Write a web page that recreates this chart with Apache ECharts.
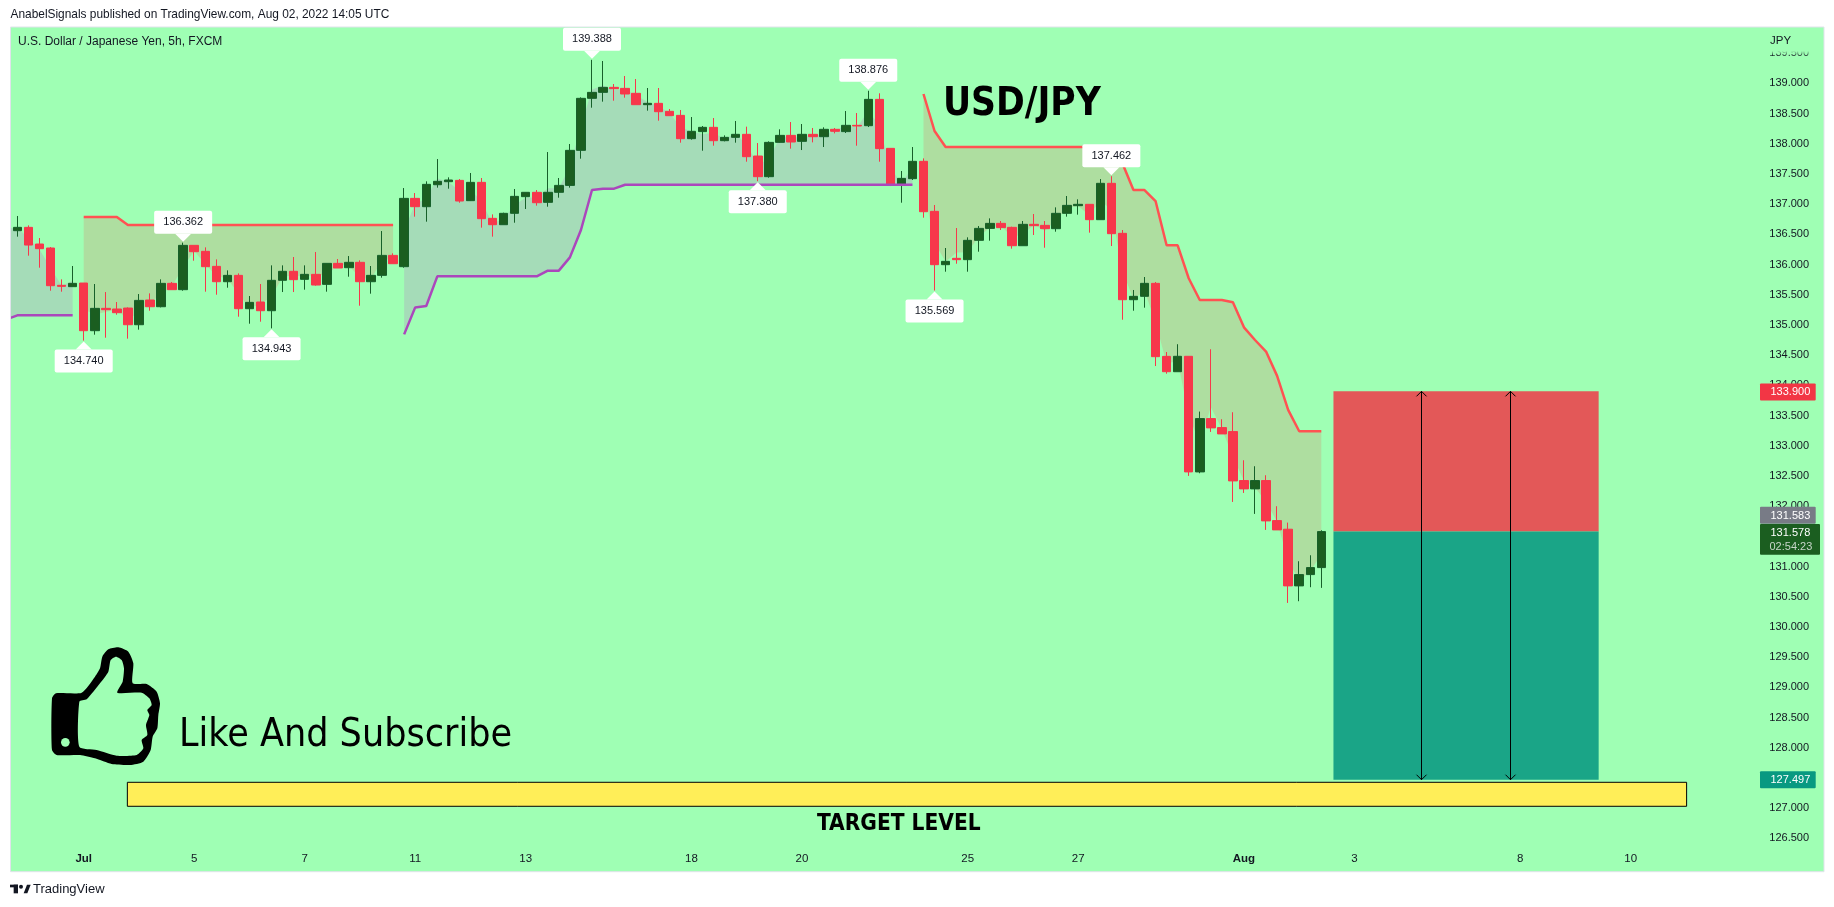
<!DOCTYPE html>
<html>
<head>
<meta charset="utf-8">
<title>USD/JPY</title>
<style>
    html, body { margin: 0; padding: 0; background: #fff; }
    #chart { width: 1834px; height: 907px; }
</style>
<script src="https://cdn.jsdelivr.net/npm/echarts@6/dist/echarts.min.js"></script>
</head>
<body>
<div id="chart"></div>
<script>
// 5h candles, first one is the cut off bar at the left edge of the pane
var barOpen = [136.62,
    136.56,136.615,136.339,136.273,135.655,135.633,135.693,134.904,135.274,135.263,
    135.279,135.003,135.412,135.301,135.688,135.583,136.317,136.218,135.969,135.715,
    135.82,135.268,135.379,135.235,135.738,135.887,135.754,135.837,135.671,136.019,
    135.947,136.036,135.715,135.82,136.151,135.964,137.095,136.957,137.321,137.371,
    137.393,137.057,137.36,136.764,136.659,136.847,137.123,137.195,137.029,137.195,
    137.31,137.89,138.751,138.85,138.933,138.916,138.834,138.646,138.668,138.536,
    138.469,138.083,138.2,138.271,138.05,138.105,138.155,137.796,137.454,138.022,
    138.138,138.039,138.155,138.116,138.238,138.2,138.304,138.298,138.734,137.923,
    137.316,137.421,137.708,136.88,135.997,136.102,136.08,136.4,136.598,136.681,
    136.615,136.311,136.665,136.648,136.593,136.847,136.974,136.996,136.742,137.344,
    136.516,135.417,135.473,135.688,134.479,134.225,134.48,132.566,133.449,133.3,
    133.234,132.423,132.285,132.423,131.76,131.617,130.679,130.866,130.982];
var barClose = [136.56,
    136.615,136.322,136.262,135.649,135.638,135.688,134.904,135.274,135.252,135.202,
    135.003,135.406,135.301,135.688,135.583,136.317,136.212,135.964,135.715,135.82,
    135.268,135.373,135.235,135.738,135.887,135.749,135.837,135.66,136.019,135.942,
    136.036,135.715,135.82,136.151,136.013,137.095,136.957,137.327,137.377,137.399,
    137.051,137.36,136.759,136.659,136.847,137.128,137.195,137.023,137.195,137.31,
    137.89,138.751,138.85,138.933,138.911,138.823,138.646,138.668,138.53,138.464,
    138.083,138.205,138.271,138.05,138.105,138.155,137.785,137.454,138.022,138.138,
    138.028,138.155,138.116,138.238,138.205,138.304,138.293,138.734,137.918,137.31,
    137.426,137.708,136.874,135.997,136.052,136.08,136.4,136.598,136.681,136.61,
    136.311,136.665,136.643,136.593,136.847,136.979,136.996,136.742,137.344,136.51,
    135.417,135.473,135.688,134.474,134.225,134.48,132.566,133.449,133.295,133.195,
    132.417,132.285,132.423,131.755,131.606,130.679,130.866,130.982,131.578];
var barLow = [136.5,
    136.461,136.146,135.947,135.566,135.55,135.633,134.74,134.838,134.788,135.169,
    134.772,134.921,135.235,135.29,135.583,135.566,136.063,135.55,135.5,135.616,
    135.136,135.02,135.053,134.943,135.544,135.544,135.583,135.649,135.55,135.942,
    135.798,135.318,135.517,135.782,136.013,135.947,136.792,136.709,137.272,137.255,
    137.023,137.051,136.61,136.461,136.659,136.692,136.919,136.974,136.957,137.106,
    137.272,137.752,138.596,138.696,138.712,138.762,138.646,138.547,138.381,138.464,
    138.017,138.067,137.884,137.967,138.039,138.017,137.702,137.38,137.437,138.017,
    137.918,137.895,138.022,137.945,138.171,138.177,137.967,138.276,137.702,137.299,
    137.023,137.399,136.775,135.569,135.881,136.013,135.881,136.212,136.394,136.571,
    136.262,136.311,136.488,136.278,136.543,136.792,136.825,136.527,136.742,136.306,
    135.086,135.235,135.285,134.319,134.192,134.225,132.5,132.544,133.228,133.195,
    132.069,132.218,131.871,131.606,131.606,130.397,130.425,130.657,130.646];
var barHigh = [136.7,
    136.803,136.648,136.438,136.289,135.754,135.975,135.693,135.677,135.544,135.379,
    135.29,135.511,135.522,135.754,135.71,136.362,136.317,136.284,136.085,135.903,
    135.853,135.478,135.677,135.986,135.986,136.124,135.986,136.207,136.019,136.091,
    136.14,136.069,135.975,136.554,136.185,137.266,137.183,137.377,137.746,137.443,
    137.415,137.515,137.432,136.83,136.858,137.25,137.195,137.233,137.862,137.432,
    137.995,138.767,139.388,139.369,138.988,139.121,139.071,138.922,138.922,138.574,
    138.558,138.442,138.293,138.425,138.138,138.376,138.282,138.011,138.039,138.238,
    138.359,138.326,138.26,138.271,138.26,138.541,138.508,138.876,138.834,137.923,
    137.548,137.945,137.757,136.985,136.273,136.604,136.45,136.637,136.764,136.72,
    136.626,136.72,136.836,136.72,136.946,137.134,137.079,136.996,137.415,137.462,
    136.571,135.578,135.793,135.71,134.551,134.68,134.48,133.565,134.597,133.438,
    133.554,132.759,132.66,132.511,131.998,131.727,131.087,131.186,131.6];

// supertrend lines, null where the other side is active
var trendLower = [135.092,
    135.158,135.158,135.158,135.158,135.158,135.158,
    null,null,null,null,null,null,null,null,null,null,null,null,null,null,null,
    null,null,null,null,null,null,null,null,null,null,null,null,null,null,
    134.843,135.29,135.312,
    135.804,135.804,135.804,135.804,135.804,135.804,135.804,135.804,135.804,135.804,
    135.898,135.898,136.118,136.571,137.233,137.255,137.255,
    137.321,137.321,137.321,137.321,137.321,137.321,137.321,137.321,137.321,
    137.321,137.321,137.321,137.321,137.321,137.321,137.321,137.321,137.321,
    137.321,137.321,137.321,137.321,137.321,137.321,137.321,137.321,137.321,
    null,null,null,null,null,null,null,null,null,null,null,null,null,
    null,null,null,null,null,null,null,null,null,null,null,null,null,
    null,null,null,null,null,null,null,null,null,null,null];
var trendUpper = [null,null,null,null,null,null,null,
    136.786,136.786,136.786,136.786,
    136.654,136.654,136.654,136.654,136.654,136.654,136.654,136.654,136.654,136.654,
    136.654,136.654,136.654,136.654,136.654,136.654,136.654,136.654,136.654,136.654,
    136.654,136.654,136.654,136.654,136.654,
    null,null,null,null,null,null,null,null,null,null,null,null,null,null,null,null,
    null,null,null,null,null,null,null,null,null,null,null,null,null,null,null,null,
    null,null,null,null,null,null,null,null,null,null,null,null,null,null,null,
    138.823,138.21,
    137.945,137.945,137.945,137.945,137.945,137.945,137.945,137.945,
    137.945,137.945,137.945,137.945,137.945,137.945,137.945,137.945,
    137.675,137.233,137.233,137.051,136.318,136.318,135.772,135.412,135.412,135.412,
    135.374,134.96,134.75,134.559,134.156,133.593,133.24,133.24,133.24];
// first bar, last bar, 1 = uptrend
var trendSegments = [[0, 6, 1], [7, 35, 0], [36, 82, 1], [83, 119, 0]];

var tickBars = [7, 17, 27, 37, 47, 62, 72, 87, 97, 112, 122, 137, 147];
var tickLabels = ['Jul', '5', '7', '11', '13', '18', '20', '25', '27', 'Aug', '3', '8', '10'];

var calloutBars = [7, 16, 24, 53, 68, 78, 84, 100];
var calloutPrices = [134.74, 136.362, 134.943, 139.388, 137.38, 138.876, 135.569, 137.462];
var calloutAbove = [0, 1, 0, 1, 0, 1, 0, 1];

// drawn short position
var positionBars = [120.1, 144.1];
var positionStop = 133.9;
var positionEntry = 131.578;
var positionTarget = 127.47;
var arrowBars = [128.05, 136.1];
var targetZoneBars = [10.95, 152.06];
var targetZonePrices = [127.03, 127.427];

var tagPrices = [133.89, 131.583, 131.578, 127.47];
var tagLabels = ['133.900', '131.583', '131.578', '127.497'];

var paneColor = '#9fffb4';
var bullColor = '#1b5e20';
var bearColor = '#f7374b';
var textColor = '#131722';
var smallFont = '"Liberation Sans", sans-serif';
var bigFont = '"DejaVu Sans Condensed", "DejaVu Sans", sans-serif';
var bandWidth = 11.05;
var barCount = 165;

var categories = [];
for (var i = 0; i < barCount; i++) {
    categories.push(String(i));
}
var candleData = barOpen.map(function (o, i) {
    return [o, barClose[i], barLow[i], barHigh[i]];
});

function renderTrendFill(params, api) {
    var start = api.value(0), end = api.value(1), isUp = api.value(2);
    var line = isUp ? trendLower : trendUpper;
    var points = [];
    for (var b = start; b <= end; b++) {
        points.push(api.coord([b, line[b]]));
    }
    for (var b2 = end; b2 >= start; b2--) {
        var mid = (barOpen[b2] + barClose[b2] + barLow[b2] + barHigh[b2]) / 4;
        points.push(api.coord([b2, mid]));
    }
    return {
        type: 'polygon',
        shape: { points: points },
        style: { fill: isUp ? '#a5dcb8' : '#aedea0' }
    };
}

function renderBox(params, api) {
    var a = api.coord([api.value(0), api.value(1)]);
    var b = api.coord([api.value(2), api.value(3)]);
    var border = api.value(5) === 1;
    return {
        type: 'rect',
        shape: { x: a[0], y: b[1], width: b[0] - a[0], height: a[1] - b[1] },
        style: {
            fill: ['#e35858', '#1aa587', '#ffee58'][api.value(4)],
            stroke: border ? '#000' : null,
            lineWidth: 1
        }
    };
}

function renderArrow(params, api) {
    var top = api.coord([api.value(0), positionStop]);
    var bottom = api.coord([api.value(0), positionTarget]);
    var x = Math.round(top[0]) + 0.5;
    var style = { stroke: '#000', lineWidth: 1, fill: null };
    return {
        type: 'group',
        children: [
            { type: 'line', shape: { x1: x, y1: top[1], x2: x, y2: bottom[1] }, style: style },
            { type: 'polyline', shape: { points: [[x - 5, top[1] + 5], [x, top[1]], [x + 5, top[1] + 5]] }, style: style },
            { type: 'polyline', shape: { points: [[x - 5, bottom[1] - 5], [x, bottom[1]], [x + 5, bottom[1] - 5]] }, style: style }
        ]
    };
}

function renderCallout(params, api) {
    var pt = api.coord([api.value(0), api.value(1)]);
    var above = api.value(2) === 1;
    var dir = above ? -1 : 1;
    var x = pt[0], tip = pt[1] + dir, neck = tip + dir * 8;
    var w = 58, h = 23;
    var boxY = above ? neck - h : neck;
    return {
        type: 'group',
        children: [
            { type: 'polygon', shape: { points: [[x, tip], [x - 8, neck], [x + 8, neck]] }, style: { fill: '#fff' } },
            { type: 'rect', shape: { x: x - w / 2, y: boxY, width: w, height: h, r: 2 }, style: { fill: '#fff' } },
            {
                type: 'text',
                style: {
                    text: api.value(1).toFixed(3), x: x, y: boxY + h / 2,
                    textAlign: 'center', textVerticalAlign: 'middle',
                    font: '11px ' + smallFont, fill: textColor
                }
            }
        ]
    };
}

function renderTag(params, api) {
    var idx = params.dataIndex;
    var y = api.coord([0, tagPrices[idx]])[1];
    var fills = ['#f23645', '#787b86', '#1b5e20', '#089981'];
    var shift = [0, -16, 0, 0][idx];
    var x = 1760, w = idx === 2 ? 60 : 55.7;
    var top = idx === 2 ? 524 : y + shift - 8.5;
    var h = idx === 2 ? 30.7 : 17;
    var children = [
        { type: 'rect', shape: { x: x, y: top, width: w, height: h, r: 1 }, style: { fill: fills[idx] } },
        {
            type: 'text',
            style: {
                text: tagLabels[idx], x: 1770.5, y: top + 8.7, textVerticalAlign: 'middle',
                font: '11px ' + smallFont, fill: '#fff'
            }
        }
    ];
    if (idx === 2) {
        children.push({
            type: 'text',
            style: {
                text: '02:54:23', x: 1769.5, y: top + 22.5, textVerticalAlign: 'middle',
                font: '11px ' + smallFont, fill: '#c6d5c8'
            }
        });
    }
    return { type: 'group', children: children };
}

function paneText(text, x, y, font, fill, align) {
    return {
        type: 'text', z: 40,
        style: {
            text: text, x: x, y: y, font: font, fill: fill || textColor,
            textAlign: align || 'left', textVerticalAlign: 'middle'
        }
    };
}

var thumbOuter = [[36,175],[48,160],[125,158],[165,110],[180,85],[187,50],[205,28],[235,22],[265,35],[280,70],[278,130],[320,132],[350,155],[360,190],[355,225],[352,265],[338,290],[332,330],[310,365],[270,375],[215,372],[165,355],[120,345],[50,345],[36,330]];
var thumbInner = [[118,185],[140,178],[180,130],[205,95],[212,60],[228,50],[245,60],[252,85],[248,125],[232,158],[305,158],[328,175],[335,195],[322,210],[328,225],[318,255],[322,285],[305,300],[310,325],[290,345],[230,347],[170,330],[118,320]];

var chart = echarts.init(document.getElementById('chart'), null, { renderer: 'canvas' });
chart.setOption({
    animation: false,
    backgroundColor: '#fff',
    textStyle: { fontFamily: smallFont },
    grid: { left: 0.825, top: 22.9, width: bandWidth * barCount, height: 845.6 },
    xAxis: [{
        type: 'category',
        data: categories,
        axisLine: { show: false },
        axisTick: { show: false },
        splitLine: { show: false },
        axisLabel: {
            inside: true,
            margin: 4,
            color: textColor,
            fontSize: 11.5,
            verticalAlign: 'bottom',
            interval: function (index) { return tickBars.indexOf(index) >= 0; },
            formatter: function (value, index) {
                var label = tickLabels[tickBars.indexOf(index)];
                return label === 'Jul' || label === 'Aug' ? '{b|' + label + '}' : label;
            },
            rich: { b: { fontWeight: 'bold', fontSize: 11.5, color: textColor, fontFamily: smallFont } }
        }
    }, {
        // same bars as the category axis, lets drawings sit between bar centres
        type: 'value', min: -0.5, max: barCount - 0.5, show: false
    }],
    yAxis: {
        type: 'value',
        position: 'right',
        min: 126,
        max: 140,
        interval: 0.5,
        axisLine: { show: false },
        axisTick: { show: false },
        splitLine: { show: false },
        axisLabel: {
            inside: true,
            margin: 15,
            color: textColor,
            fontSize: 11,
            formatter: function (v) {
                return v > 139.75 || v < 126.25 ? '' : v.toFixed(3);
            }
        }
    },
    series: [{
        type: 'custom', z: 1, silent: true, clip: false,
        data: trendSegments,
        renderItem: renderTrendFill
    }, {
        type: 'candlestick', z: 2, silent: true,
        data: candleData,
        barWidth: 9,
        itemStyle: {
            color: bullColor, color0: bearColor,
            borderColor: '#17602a', borderColor0: bearColor, borderWidth: 1
        }
    }, {
        type: 'line', z: 3, silent: true, symbol: 'none',
        data: trendLower,
        lineStyle: { color: '#ab47bc', width: 2.5 }
    }, {
        type: 'line', z: 3, silent: true, symbol: 'none',
        data: trendUpper,
        lineStyle: { color: '#ff5252', width: 2.5 }
    }, {
        type: 'custom', z: 4, silent: true, clip: false, xAxisIndex: 1,
        data: [
            [positionBars[0], positionEntry, positionBars[1], positionStop, 0, 0],
            [positionBars[0], positionTarget, positionBars[1], positionEntry, 1, 0],
            [targetZoneBars[0], targetZonePrices[0], targetZoneBars[1], targetZonePrices[1], 2, 1]
        ],
        renderItem: renderBox
    }, {
        type: 'custom', z: 5, silent: true, clip: false, xAxisIndex: 1,
        data: arrowBars.map(function (b) { return [b, positionEntry]; }),
        renderItem: renderArrow
    }, {
        type: 'custom', z: 6, silent: true, clip: false,
        data: calloutBars.map(function (b, i) { return [b, calloutPrices[i], calloutAbove[i]]; }),
        renderItem: renderCallout
    }, {
        type: 'custom', z: 7, silent: true, clip: false,
        data: tagPrices.map(function (p, i) { return [0, p]; }),
        renderItem: renderTag
    }],
    graphic: [
        { type: 'rect', z: -1, shape: { x: 10.5, y: 27, width: 1813.5, height: 844.7 }, style: { fill: paneColor } },
        // hides what is left of the pane
        { type: 'rect', z: 25, shape: { x: 0, y: 0, width: 10.5, height: 907 }, style: { fill: '#fff' } },
        { type: 'rect', z: 30, shape: { x: 10.5, y: 27, width: 1813.5, height: 844.7 }, style: { fill: null, stroke: '#e0e3eb', lineWidth: 1 } },
        // the top price label fades under the currency
        {
            type: 'rect', z: 20, shape: { x: 1762, y: 28, width: 60, height: 28 },
            style: {
                fill: new echarts.graphic.LinearGradient(0, 0, 0, 1, [
                    { offset: 0, color: paneColor },
                    { offset: 0.82, color: paneColor },
                    { offset: 1, color: 'rgba(159,255,180,0)' }
                ])
            }
        },
        paneText('AnabelSignals published on TradingView.com, Aug 02, 2022 14:05 UTC', 10.5, 15, '11.9px ' + smallFont),
        paneText('U.S. Dollar / Japanese Yen, 5h, FXCM', 18, 41.5, '12px ' + smallFont),
        paneText('JPY', 1770, 40.5, '11.5px ' + smallFont),
        paneText('USD/JPY', 943, 105, 'bold 38.5px ' + bigFont, '#000'),
        paneText('Like And Subscribe', 179, 736, '39px ' + bigFont, '#000'),
        paneText('TARGET LEVEL', 817, 824, 'bold 22.5px ' + bigFont, '#000'),
        paneText('TradingView', 33, 889, '13px ' + smallFont),
        {
            type: 'group', z: 40, x: 40, y: 640, scaleX: 1 / 3, scaleY: 1 / 3,
            children: [
                { type: 'polygon', z: 40, shape: { points: thumbOuter, smooth: 0.2 }, style: { fill: '#000' } },
                { type: 'polygon', z: 41, shape: { points: thumbInner, smooth: 0.2 }, style: { fill: paneColor } },
                { type: 'circle', z: 41, shape: { cx: 76, cy: 307, r: 13 }, style: { fill: paneColor } }
            ]
        },
        {
            type: 'group', z: 40, x: 0, y: 870, scaleX: 1 / 3, scaleY: 1 / 3,
            children: [
                { type: 'rect', z: 40, shape: { x: 30, y: 44, width: 24, height: 8 }, style: { fill: textColor } },
                { type: 'rect', z: 40, shape: { x: 41, y: 44, width: 13, height: 26 }, style: { fill: textColor } },
                { type: 'circle', z: 40, shape: { cx: 63, cy: 50, r: 6 }, style: { fill: textColor } },
                { type: 'polygon', z: 40, shape: { points: [[71, 70], [81, 44], [92, 44], [82, 70]] }, style: { fill: textColor } }
            ]
        }
    ]
});
</script>
</body>
</html>
